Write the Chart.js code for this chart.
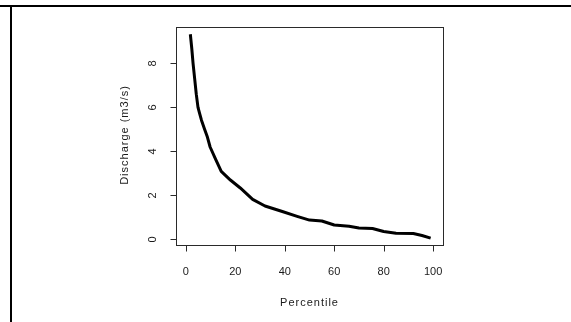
<!DOCTYPE html>
<html><head><meta charset="utf-8">
<script src="https://cdn.jsdelivr.net/npm/chart.js@4"></script>
<style>html,body{margin:0;padding:0;background:#fff;overflow:hidden}#wrap{position:relative;width:571px;height:322px}canvas{display:block}</style>
</head><body><div id="wrap"><canvas id="c" width="571" height="322"></canvas></div>
<script>
const percentile = [1.8, 2.4, 2.9, 3.6, 4.2, 4.9, 5.6, 6.3, 7.6, 8.7, 9.8, 12, 14.3, 18, 22, 27, 32, 39, 45, 50, 55, 60, 66, 70, 75.5, 80, 85, 92, 95.5, 99];
const discharge = [9.32, 8.65, 8.0, 7.25, 6.6, 6.0, 5.7, 5.42, 5.0, 4.65, 4.2, 3.65, 3.09, 2.7, 2.34, 1.82, 1.52, 1.27, 1.05, 0.88, 0.84, 0.66, 0.6, 0.52, 0.5, 0.36, 0.28, 0.27, 0.18, 0.06];
const xTicks = [0, 20, 40, 60, 80, 100];
const yTicks = [0, 2, 4, 6, 8];
const xTitle = 'Percentile';
const yTitle = 'Discharge (m3/s)';

const points = percentile.map((p, i) => ({x: p, y: discharge[i]}));
const FONT = '11px "Liberation Sans", Arial, sans-serif';
const TEXT = '#1a1a1a';
const AXIS = '#2a2a2a';

const decor = {
  id: 'decor',
  afterDraw(chart) {
    const {ctx, chartArea: a, scales: {x, y}} = chart;
    ctx.save();
    ctx.fillStyle = '#000';
    ctx.fillRect(0, 5, 571, 2);
    ctx.fillRect(10, 5, 2, 317);
    ctx.strokeStyle = AXIS;
    ctx.lineWidth = 1;
    const L = Math.round(a.left) + 0.5, R = Math.round(a.right) + 0.5;
    const T = Math.round(a.top) + 0.5, B = Math.round(a.bottom) + 0.5;
    ctx.strokeRect(L, T, R - L, B - T);
    ctx.fillStyle = TEXT;
    ctx.font = FONT;
    ctx.textAlign = 'center';
    ctx.textBaseline = 'middle';
    ctx.beginPath();
    xTicks.forEach(v => {
      const px = Math.round(x.getPixelForValue(v)) + 0.5;
      ctx.moveTo(px, B); ctx.lineTo(px, B + 6);
    });
    yTicks.forEach(v => {
      const py = Math.round(y.getPixelForValue(v)) + 0.5;
      ctx.moveTo(L, py); ctx.lineTo(L - 6, py);
    });
    ctx.stroke();
    xTicks.forEach(v => {
      ctx.fillText(String(v), x.getPixelForValue(v), 272);
    });
    yTicks.forEach(v => {
      ctx.save();
      ctx.translate(153, y.getPixelForValue(v));
      ctx.rotate(-Math.PI / 2);
      ctx.fillText(String(v), 0, 0);
      ctx.restore();
    });
    ctx.letterSpacing = '1px';
    ctx.fillText(xTitle, (a.left + a.right) / 2, 303);
    ctx.save();
    ctx.translate(125, (a.top + a.bottom) / 2 - 1);
    ctx.rotate(-Math.PI / 2);
    ctx.fillText(yTitle, 0, 0);
    ctx.restore();
    ctx.restore();
  }
};

new Chart(document.getElementById('c'), {
  type: 'line',
  data: {
    datasets: [{
      data: points,
      borderColor: '#000',
      borderWidth: 3,
      pointRadius: 0,
      tension: 0,
      fill: false,
      borderJoinStyle: 'round',
      borderCapStyle: 'butt'
    }]
  },
  options: {
    responsive: false,
    animation: false,
    devicePixelRatio: 1,
    layout: {padding: {left: 176, right: 128, top: 27, bottom: 77}},
    plugins: {legend: {display: false}, tooltip: {enabled: false}},
    scales: {
      x: {type: 'linear', min: -4, max: 104, display: false},
      y: {type: 'linear', min: -0.25, max: 9.65, display: false}
    }
  },
  plugins: [decor]
});
</script>
</body></html>
